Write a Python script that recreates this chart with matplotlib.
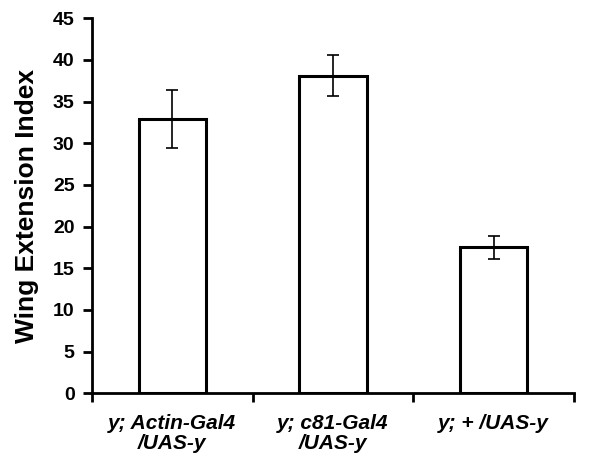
import matplotlib
matplotlib.use("Agg")
import matplotlib.pyplot as plt
import numpy as np

categories = ["y; Actin-Gal4\n/UAS-y", "y; c81-Gal4\n/UAS-y", "y; + /UAS-y"]
values = [32.9, 38.1, 17.5]
errors = [3.5, 2.45, 1.35]
yticks = [0, 5, 10, 15, 20, 25, 30, 35, 40, 45]

plt.rcParams['font.family'] = ['Liberation Sans', 'DejaVu Sans']

fig = plt.figure(figsize=(5.93, 4.67), dpi=100)
ax = fig.add_axes([0.155, 0.158, 0.813, 0.803])

x = np.arange(len(categories))
ax.bar(x, values, width=0.42, color='white', edgecolor='black', linewidth=2.2, zorder=2)
ax.errorbar(x, values, yerr=errors, fmt='none', ecolor='black', elinewidth=1.2,
            capsize=4.5, capthick=1.2, zorder=3)

ax.set_xlim(-0.5, len(categories) - 0.5)
ax.set_ylim(0, 45)
ax.set_yticks(yticks)
ax.set_yticklabels([str(t) for t in yticks], fontsize=14, fontweight='bold')

ax.set_xticks(x)
ax.set_xticklabels(categories, fontsize=15, fontweight='bold', style='italic', linespacing=1.08)
ax.tick_params(axis='x', length=0, pad=15)
ax.set_xticks(np.arange(len(categories) + 1) - 0.5, minor=True)
ax.tick_params(axis='x', which='minor', length=6.5, width=2, direction='out')
ax.tick_params(axis='y', length=6.5, width=2, direction='out', pad=6)

for s in ['top', 'right']:
    ax.spines[s].set_visible(False)
for s in ['left', 'bottom']:
    ax.spines[s].set_linewidth(2)

ax.set_ylabel("Wing Extension Index", fontsize=19, fontweight='bold', labelpad=10)

fig.savefig("out.png", dpi=100)
